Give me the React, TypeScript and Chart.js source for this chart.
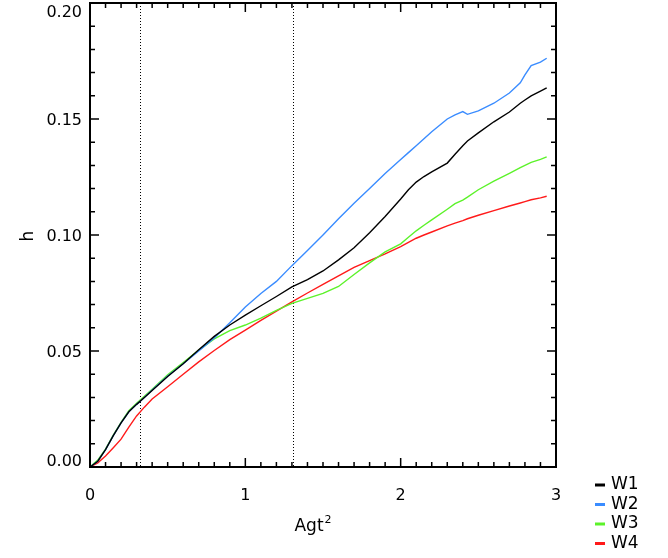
import React, { useEffect, useRef } from "react";
import { Chart, registerables } from "chart.js";
Chart.register(...registerables);

const xValues = [0, 0.05, 0.1, 0.15, 0.2, 0.25, 0.3, 0.35, 0.4, 0.5, 0.6, 0.7, 0.8, 0.9, 1.0, 1.1, 1.2, 1.3, 1.4, 1.5, 1.6, 1.7, 1.8, 1.9, 2.0, 2.05, 2.1, 2.15, 2.2, 2.3, 2.35, 2.4, 2.43, 2.5, 2.6, 2.7, 2.77, 2.8, 2.84, 2.9, 2.94];
const w1 = [0, 0.0025, 0.0075, 0.0135, 0.019, 0.0238, 0.027, 0.030, 0.033, 0.039, 0.0445, 0.0505, 0.0563, 0.0612, 0.0655, 0.0695, 0.0735, 0.0776, 0.0808, 0.0845, 0.0893, 0.0945, 0.101, 0.108, 0.1155, 0.1195, 0.1228, 0.1252, 0.1272, 0.131, 0.1348, 0.1385, 0.1405, 0.144, 0.1488, 0.153, 0.1568, 0.1582, 0.16, 0.162, 0.1634];
const w2 = [0, 0.0025, 0.0075, 0.0135, 0.019, 0.0238, 0.027, 0.030, 0.0332, 0.0392, 0.0445, 0.05, 0.0556, 0.0622, 0.069, 0.0748, 0.08, 0.0868, 0.0933, 0.1, 0.107, 0.1137, 0.12, 0.1265, 0.1325, 0.1355, 0.1385, 0.1415, 0.1445, 0.15, 0.1518, 0.1532, 0.152, 0.1535, 0.1568, 0.1612, 0.1656, 0.169, 0.173, 0.1745, 0.1762];
const w3 = [0, 0.003, 0.0077, 0.0137, 0.0192, 0.0243, 0.0275, 0.0305, 0.0335, 0.0397, 0.045, 0.0504, 0.0552, 0.0588, 0.0612, 0.0642, 0.0675, 0.0705, 0.0727, 0.0748, 0.0778, 0.083, 0.088, 0.0927, 0.0962, 0.099, 0.1018, 0.1042, 0.1065, 0.1111, 0.1135, 0.115, 0.1163, 0.1195, 0.1232, 0.1266, 0.129, 0.13, 0.1313, 0.1326, 0.1337];
const w4 = [0, 0.0018, 0.0047, 0.0083, 0.012, 0.0172, 0.022, 0.0258, 0.0293, 0.0346, 0.04, 0.0453, 0.0502, 0.0549, 0.059, 0.0632, 0.0672, 0.0712, 0.075, 0.0787, 0.0824, 0.086, 0.089, 0.0919, 0.095, 0.0968, 0.0986, 0.1, 0.1013, 0.1039, 0.1051, 0.1062, 0.107, 0.1085, 0.1105, 0.1125, 0.1138, 0.1144, 0.1152, 0.116, 0.1167];

const seriesNames = ["W1", "W2", "W3", "W4"];
const seriesValues = [w1, w2, w3, w4];
const seriesColors = ["#000000", "#3a8cff", "#5cf22a", "#ff1a1a"];

const xTicks = [0, 1, 2, 3];
const xTickLabels = ["0", "1", "2", "3"];
const yTicks = [0, 0.05, 0.1, 0.15, 0.2];
const yTickLabels = ["0.00", "0.05", "0.10", "0.15", "0.20"];
const markerLines = [0.32, 1.31];

const FONT = '"DejaVu Sans", sans-serif';

const framePlugin = {
  id: "idlFrame",
  beforeDatasetsDraw(chart: any) {
    const { ctx, chartArea, scales } = chart;
    ctx.save();
    ctx.strokeStyle = "#000";
    ctx.lineWidth = 1;
    ctx.setLineDash([1, 2]);
    for (const v of markerLines) {
      const px = Math.round(scales.x.getPixelForValue(v)) + 0.5;
      ctx.beginPath();
      ctx.moveTo(px, chartArea.top);
      ctx.lineTo(px, chartArea.bottom);
      ctx.stroke();
    }
    ctx.restore();
  },
  afterDraw(chart: any) {
    const { ctx, chartArea, scales } = chart;
    const { left, right, top, bottom } = chartArea;
    ctx.save();
    ctx.strokeStyle = "#000";
    ctx.lineWidth = 2;
    ctx.setLineDash([]);
    ctx.strokeRect(left, top, right - left, bottom - top);

    ctx.lineWidth = 1.5;
    for (let i = 0; i <= 30; i++) {
      const v = i / 10;
      const len = i % 10 === 0 ? 9 : 5;
      const px = scales.x.getPixelForValue(v);
      ctx.beginPath();
      ctx.moveTo(px, bottom);
      ctx.lineTo(px, bottom - len);
      ctx.moveTo(px, top);
      ctx.lineTo(px, top + len);
      ctx.stroke();
    }
    for (let i = 0; i <= 20; i++) {
      const v = i / 100;
      const len = i % 5 === 0 ? 9 : 5;
      const py = scales.y.getPixelForValue(v);
      ctx.beginPath();
      ctx.moveTo(left, py);
      ctx.lineTo(left + len, py);
      ctx.moveTo(right, py);
      ctx.lineTo(right - len, py);
      ctx.stroke();
    }

    ctx.fillStyle = "#000";
    ctx.font = `16px ${FONT}`;
    ctx.textAlign = "center";
    ctx.textBaseline = "middle";
    xTicks.forEach((v, i) => {
      ctx.fillText(xTickLabels[i], scales.x.getPixelForValue(v), bottom + 29);
    });
    ctx.textAlign = "right";
    yTicks.forEach((v, i) => {
      let py = scales.y.getPixelForValue(v) + 2;
      py = Math.max(top + 9.5, Math.min(bottom - 5.5, py));
      ctx.fillText(yTickLabels[i], left - 8, py);
    });

    ctx.font = `17px ${FONT}`;
    ctx.textAlign = "left";
    ctx.textBaseline = "alphabetic";
    const base = "Agt";
    const wBase = ctx.measureText(base).width;
    ctx.font = `11px ${FONT}`;
    const wSup = ctx.measureText("2").width;
    const cx = (left + right) / 2 - 10;
    const sx = cx - (wBase + wSup + 1) / 2;
    ctx.font = `17px ${FONT}`;
    ctx.fillText(base, sx, 531);
    ctx.font = `11px ${FONT}`;
    ctx.fillText("2", sx + wBase + 1, 523);

    ctx.save();
    ctx.translate(29, 236);
    ctx.rotate(-Math.PI / 2);
    ctx.font = `17px ${FONT}`;
    ctx.textAlign = "center";
    ctx.textBaseline = "middle";
    ctx.fillText("h", 0, 0);
    ctx.restore();

    const rows = [485, 504.5, 524, 543.5];
    chart.data.datasets.forEach((ds: any, i: number) => {
      const y = rows[i];
      ctx.strokeStyle = ds.borderColor;
      ctx.lineWidth = 3;
      ctx.beginPath();
      ctx.moveTo(595, y);
      ctx.lineTo(605, y);
      ctx.stroke();
      ctx.fillStyle = "#000";
      ctx.font = `17px ${FONT}`;
      ctx.textAlign = "left";
      ctx.textBaseline = "middle";
      ctx.fillText(ds.label, 611, y);
    });
    ctx.restore();
  },
};

export default function App() {
  const ref = useRef<HTMLCanvasElement>(null);
  useEffect(() => {
    if (!ref.current) return;
    const chart = new Chart(ref.current, {
      type: "line",
      data: {
        datasets: seriesNames.map((name, i) => ({
          label: name,
          data: xValues.map((x, j) => ({ x, y: seriesValues[i][j] })),
          borderColor: seriesColors[i],
          backgroundColor: seriesColors[i],
          borderWidth: 1.4,
          pointRadius: 0,
          tension: 0,
          fill: false,
        })),
      },
      options: {
        animation: false,
        responsive: false,
        devicePixelRatio: 1,
        layout: { padding: { top: 3, right: 112, left: 0, bottom: 0 } },
        plugins: { legend: { display: false }, tooltip: { enabled: false } },
        scales: {
          x: {
            type: "linear",
            min: 0,
            max: 3,
            grid: { display: false },
            border: { display: false },
            ticks: { display: false },
            afterFit: (s: any) => { s.height = 91; },
          },
          y: {
            type: "linear",
            min: 0,
            max: 0.2,
            grid: { display: false },
            border: { display: false },
            ticks: { display: false },
            afterFit: (s: any) => { s.width = 90; },
          },
        },
      },
      plugins: [framePlugin],
    });
    return () => chart.destroy();
  }, []);
  return (
    <div style={{ position: "absolute", left: 0, top: 0, width: 668, height: 558, background: "#fff" }}>
      <canvas ref={ref} width={668} height={558} />
    </div>
  );
}
